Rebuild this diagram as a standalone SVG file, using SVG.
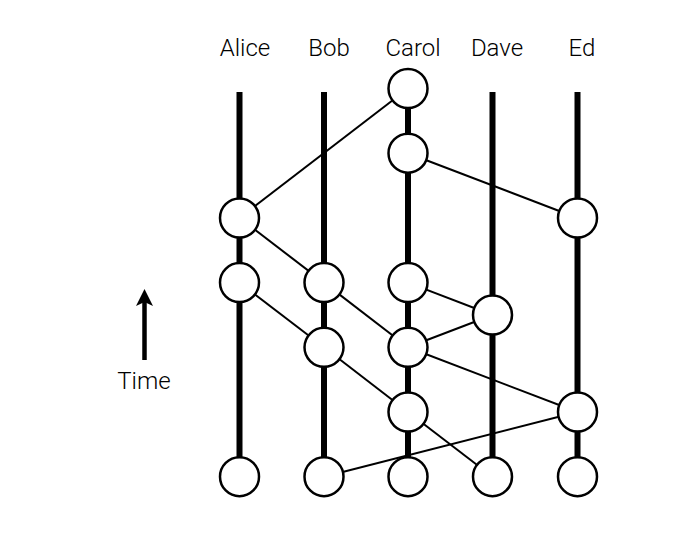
<svg xmlns="http://www.w3.org/2000/svg" width="700" height="535" viewBox="0 0 700 535">
<style>
.lbl{font-family:"Roboto","Liberation Sans",Arial,sans-serif;font-weight:300;font-size:24px;fill:#000;text-anchor:middle}
.life{stroke:#000;stroke-width:6;fill:none}
.edge{stroke:#000;stroke-width:2;fill:none}
.ev{fill:#fff;stroke:#000;stroke-width:2.5}
</style>
<rect width="700" height="535" fill="#fff"/>
<g id="labels">
<text class="lbl" x="245" y="56">Alice</text>
<text class="lbl" x="329" y="56">Bob</text>
<text class="lbl" x="413" y="56">Carol</text>
<text class="lbl" x="497" y="56">Dave</text>
<text class="lbl" x="582" y="56">Ed</text>
</g>
<g id="time">
<line x1="144.5" y1="360" x2="144.5" y2="302" stroke="#000" stroke-width="4.5"/>
<path d="M144.5,289 L153,306 L144.5,302 L136,306 Z" fill="#000"/>
<text class="lbl" x="144" y="389">Time</text>
</g>
<g id="lifelines">
<line class="life" x1="239.5" y1="92" x2="239.5" y2="477"/>
<line class="life" x1="324" y1="92" x2="324" y2="477"/>
<line class="life" x1="408" y1="89" x2="408" y2="477"/>
<line class="life" x1="492.5" y1="92" x2="492.5" y2="477"/>
<line class="life" x1="577.5" y1="92" x2="577.5" y2="477"/>
</g>
<g id="connectors">
<line class="edge" x1="408" y1="88.5" x2="239.5" y2="218"/>
<line class="edge" x1="408" y1="153.2" x2="577.5" y2="218"/>
<line class="edge" x1="239.5" y1="218" x2="324" y2="282.6"/>
<line class="edge" x1="239.5" y1="282.6" x2="324" y2="347.3"/>
<line class="edge" x1="324" y1="282.6" x2="408" y2="347.3"/>
<line class="edge" x1="408" y1="282.6" x2="492.5" y2="315"/>
<line class="edge" x1="492.5" y1="315" x2="408" y2="347.3"/>
<line class="edge" x1="408" y1="347.3" x2="577.5" y2="412"/>
<line class="edge" x1="324" y1="347.3" x2="408" y2="412"/>
<line class="edge" x1="408" y1="412" x2="492.5" y2="476.7"/>
<line class="edge" x1="577.5" y1="412" x2="324" y2="476.7"/>
</g>
<g id="n-carol-1"><circle class="ev" cx="408" cy="88.5" r="19.5"/></g>
<g id="n-carol-2"><circle class="ev" cx="408" cy="153.2" r="19.5"/></g>
<g id="n-alice-1"><circle class="ev" cx="239.5" cy="218" r="19.5"/></g>
<g id="n-ed-1"><circle class="ev" cx="577.5" cy="218" r="19.5"/></g>
<g id="n-alice-2"><circle class="ev" cx="239.5" cy="282.6" r="19.5"/></g>
<g id="n-bob-1"><circle class="ev" cx="324" cy="282.6" r="19.5"/></g>
<g id="n-carol-3"><circle class="ev" cx="408" cy="282.6" r="19.5"/></g>
<g id="n-dave-1"><circle class="ev" cx="492.5" cy="315" r="19.5"/></g>
<g id="n-bob-2"><circle class="ev" cx="324" cy="347.3" r="19.5"/></g>
<g id="n-carol-4"><circle class="ev" cx="408" cy="347.3" r="19.5"/></g>
<g id="n-carol-5"><circle class="ev" cx="408" cy="412" r="19.5"/></g>
<g id="n-ed-2"><circle class="ev" cx="577.5" cy="412" r="19.5"/></g>
<g id="n-alice-3"><circle class="ev" cx="239.5" cy="476.7" r="19.5"/></g>
<g id="n-bob-3"><circle class="ev" cx="324" cy="476.7" r="19.5"/></g>
<g id="n-carol-6"><circle class="ev" cx="408" cy="476.7" r="19.5"/></g>
<g id="n-dave-2"><circle class="ev" cx="492.5" cy="476.7" r="19.5"/></g>
<g id="n-ed-3"><circle class="ev" cx="577.5" cy="476.7" r="19.5"/></g>
</svg>
